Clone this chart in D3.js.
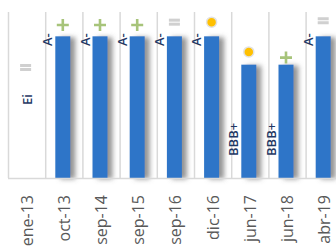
<!DOCTYPE html>
<html>
<head>
<meta charset="utf-8">
<script src="https://cdn.jsdelivr.net/npm/d3@7"></script>
<style>
  body { margin: 0; background: #fff; }
  svg { display: block; }
</style>
</head>
<body>
<div></div>
<script>
var width = 336;
var height = 251;

// data
var categories = ["ene-13", "oct-13", "sep-14", "sep-15", "sep-16", "dic-16", "jun-17", "jun-18", "abr-19"];
var ratingValue = [0, 5, 5, 5, 5, 5, 4, 4, 5];          // A- = 5, BBB+ = 4
var ratingLabel = ["Ei", "A-", "A-", "A-", "A-", "A-", "BBB+", "BBB+", "A-"];
var outlook = ["stable", "positive", "positive", "positive", "stable", "watch", "watch", "positive", "stable"];
var outlookValue = [3.9, 5.4, 5.4, 5.4, 5.5, 5.5, 4.45, 4.25, 5.55];

var data = categories.map((c, i) => ({
  cat: c,
  value: ratingValue[i],
  label: ratingLabel[i],
  outlook: outlook[i],
  mark: outlookValue[i]
}));

var svg = d3.select("div")
  .append("svg")
  .attr("width", width)
  .attr("height", height);

var defs = svg.append("defs");
var shadow = defs.append("filter")
  .attr("id", "shadow")
  .attr("x", "-20%").attr("y", "-10%")
  .attr("width", "200%").attr("height", "120%");
shadow.append("feDropShadow")
  .attr("dx", 5).attr("dy", 1)
  .attr("stdDeviation", 2.5)
  .attr("flood-color", "#6f6f6f")
  .attr("flood-opacity", 0.75);

var x = d3.scaleBand()
  .domain(categories)
  .range([8, 8 + 37.2 * categories.length])
  .padding(0);

var y = d3.scaleLinear()
  .domain([0, 6])
  .range([178, 8]);

// vertical separators between categories
svg.append("g")
  .selectAll("line")
  .data(categories)
  .join("line")
  .attr("x1", (d) => x(d) + 0.5)
  .attr("x2", (d) => x(d) + 0.5)
  .attr("y1", 12)
  .attr("y2", y(0))
  .attr("stroke", "#d9d9d9")
  .attr("stroke-width", 1.5);

// bars
var barW = 15;
svg.append("g")
  .selectAll("rect")
  .data(data.filter((d) => d.value > 0))
  .join("rect")
  .attr("x", (d) => x(d.cat) + x.bandwidth() / 2 - 1 - barW / 2)
  .attr("y", (d) => y(d.value))
  .attr("width", barW)
  .attr("height", (d) => y(0) - y(d.value))
  .attr("fill", "#2e75c8")
  .attr("filter", "url(#shadow)");

// baseline
svg.append("line")
  .attr("x1", 8)
  .attr("x2", width)
  .attr("y1", y(0) + 0.5)
  .attr("y2", y(0) + 0.5)
  .attr("stroke", "#d9d9d9")
  .attr("stroke-width", 1.5);

// rating labels, rotated
svg.append("g")
  .selectAll("text")
  .data(data)
  .join("text")
  .attr("transform", (d) => {
    var bx = x(d.cat) + x.bandwidth() / 2 - 1 - barW / 2 - 3;
    var by;
    if (d.label === "A-") by = y(d.value) - 3;
    else if (d.label === "BBB+") by = y(0) - 22;
    else { bx = x(d.cat) + x.bandwidth() / 2 + 5; by = 105; }
    return `translate(${bx},${by}) rotate(-90)`;
  })
  .attr("text-anchor", (d) => (d.label === "A-" ? "end" : "start"))
  .attr("font-family", "Open Sans, sans-serif")
  .attr("font-size", 13)
  .attr("font-weight", 600)
  .attr("fill", "#1f3864")
  .text((d) => d.label);

// outlook markers
var marks = svg.append("g")
  .selectAll("g")
  .data(data)
  .join("g")
  .attr("transform", (d) => `translate(${x(d.cat) + x.bandwidth() / 2 - 1},${y(d.mark)})`);

marks.filter((d) => d.outlook === "positive")
  .append("path")
  .attr("d", "M-6,0H6M0,-6V6")
  .attr("stroke", "#a7c47a")
  .attr("stroke-width", 2.6)
  .attr("fill", "none");

marks.filter((d) => d.outlook === "watch")
  .append("circle")
  .attr("r", 5)
  .attr("fill", "#ffc000")
  .attr("stroke", "#e2e2e2")
  .attr("stroke-width", 1.5);

marks.filter((d) => d.outlook === "stable")
  .selectAll("rect")
  .data([-3.5, 0.5])
  .join("rect")
  .attr("x", -5.5)
  .attr("y", (d) => d)
  .attr("width", 11)
  .attr("height", 3)
  .attr("fill", "#d0d0d0");

// category labels
svg.append("g")
  .selectAll("text")
  .data(categories)
  .join("text")
  .attr("transform", (d) => `translate(${x(d) + x.bandwidth() / 2 + 6},195) rotate(-90)`)
  .attr("text-anchor", "end")
  .attr("font-family", "Open Sans, sans-serif")
  .attr("font-size", 16)
  .attr("fill", "#595959")
  .text((d) => d);
</script>
</body>
</html>
